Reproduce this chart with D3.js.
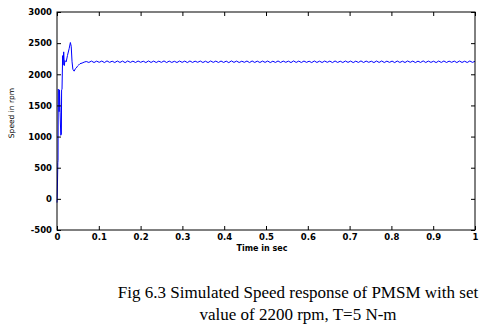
<!DOCTYPE html>
<html><head><meta charset="utf-8">
<script src="https://cdn.jsdelivr.net/npm/d3@7"></script>
<style>
html,body{margin:0;padding:0;background:#fff;}
svg{display:block;}
</style></head>
<body>
<svg id="c" width="484" height="332"></svg>
<script>
// ---- data ----
const xTicks = [0, 0.1, 0.2, 0.3, 0.4, 0.5, 0.6, 0.7, 0.8, 0.9, 1];
const xTickLabels = ["0", "0.1", "0.2", "0.3", "0.4", "0.5", "0.6", "0.7", "0.8", "0.9", "1"];
const yTicks = [-500, 0, 500, 1000, 1500, 2000, 2500, 3000];
const yTickLabels = ["-500", "0", "500", "1000", "1500", "2000", "2500", "3000"];
const xLabel = "Time in sec";
const yLabel = "Speed in rpm";
const captionLines = ["Fig 6.3 Simulated Speed response of PMSM with set", "value of 2200 rpm, T=5 N-m"];

// start-up transient (time s, speed rpm)
const transientTime = [0, 0.0005, 0.002, 0.0025, 0.003, 0.0045, 0.005, 0.006, 0.0075, 0.009, 0.0105, 0.011, 0.012, 0.0135, 0.0145, 0.016, 0.0175, 0.019, 0.022, 0.025, 0.029, 0.032, 0.034, 0.036, 0.038, 0.041, 0.044, 0.046, 0.049, 0.052, 0.055, 0.06, 0.065];
const transientSpeed = [-60, 0, 580, 620, 1760, 1740, 1400, 1750, 1380, 1020, 1040, 1750, 1760, 2300, 2150, 2360, 2140, 2220, 2200, 2300, 2410, 2510, 2450, 2200, 2080, 2050, 2090, 2100, 2130, 2150, 2170, 2180, 2195];

// steady-state ripple, sampled every half ripple period from rippleStart
const rippleStart = 0.07;
const rippleStep = 0.0062;
const rippleSpeed = [
 2205,2190,2212,2189,2211,2192,2213,2188,2215,2191,
 2210,2189,2213,2190,2212,2187,2214,2191,2211,2189,
 2213,2192,2210,2188,2214,2190,2212,2189,2211,2191,
 2215,2188,2212,2190,2209,2189,2213,2191,2212,2188,
 2214,2190,2211,2192,2213,2189,2210,2188,2214,2191,
 2212,2189,2213,2190,2211,2187,2215,2191,2212,2189,
 2210,2192,2213,2188,2214,2190,2211,2189,2212,2191,
 2213,2188,2210,2190,2214,2189,2212,2192,2211,2188,
 2215,2190,2212,2189,2213,2191,2210,2188,2214,2190,
 2211,2189,2213,2192,2212,2188,2214,2190,2210,2189,
 2213,2191,2212,2188,2211,2190,2215,2189,2212,2192,
 2210,2188,2213,2190,2214,2189,2211,2191,2212,2188,
 2213,2190,2210,2189,2214,2192,2212,2188,2211,2190,
 2215,2189,2212,2191,2210,2188,2213,2190,2214,2189,
 2211,2192,2212,2188,2213,2190,2210,2189,2214,2191,2208
];

// ---- build series ----
const series = transientTime.map((t, i) => [t, transientSpeed[i]])
  .concat(rippleSpeed.map((v, i) => [Math.min(1, rippleStart + i * rippleStep), v]));

// ---- layout ----
const L = 57, R = 475, T = 12, B = 230;
const svg = d3.select("#c");
svg.append("rect").attr("width", 484).attr("height", 332).attr("fill", "#fff");

const x = d3.scaleLinear().domain([0, 1]).range([L, R]);
const y = d3.scaleLinear().domain([-500, 3000]).range([B, T]);

const tickFont = "'DejaVu Sans', sans-serif";

// line
svg.append("path")
  .datum(series.filter(d => d[0] <= 1))
  .attr("fill", "none")
  .attr("stroke", "#0000ff")
  .attr("stroke-width", 1)
  .attr("d", d3.line().x(d => x(d[0])).y(d => y(d[1])));

// axes (inward ticks on all four sides)
function styleAxis(g) {
  g.select(".domain").remove();
  g.selectAll("line").attr("stroke", "#000").attr("stroke-width", 1);
  g.selectAll("text").attr("font-family", tickFont).attr("font-size", "8.5px").attr("font-weight", "bold").attr("fill", "#000");
}
const fmtX = d => xTickLabels[xTicks.indexOf(d)];
const fmtY = d => yTickLabels[yTicks.indexOf(d)];

svg.append("g").attr("transform", `translate(0,${B})`)
  .call(d3.axisBottom(x).tickValues(xTicks).tickFormat(fmtX).tickSizeInner(-4).tickSizeOuter(0).tickPadding(4))
  .call(styleAxis);
svg.append("g").attr("transform", `translate(0,${T})`)
  .call(d3.axisTop(x).tickValues(xTicks).tickFormat("").tickSizeInner(-4).tickSizeOuter(0))
  .call(styleAxis);
svg.append("g").attr("transform", `translate(${L},0)`)
  .call(d3.axisLeft(y).tickValues(yTicks).tickFormat(fmtY).tickSizeInner(-4).tickSizeOuter(0).tickPadding(5))
  .call(styleAxis);
svg.append("g").attr("transform", `translate(${R},0)`)
  .call(d3.axisRight(y).tickValues(yTicks).tickFormat("").tickSizeInner(-4).tickSizeOuter(0))
  .call(styleAxis);

// frame
svg.append("rect").attr("x", L).attr("y", T).attr("width", R - L).attr("height", B - T)
  .attr("fill", "none").attr("stroke", "#000").attr("stroke-width", 1);

// axis labels
svg.append("text").attr("x", 262).attr("y", 251).attr("text-anchor", "middle")
  .attr("font-family", tickFont).attr("font-size", "8px").attr("font-weight", "bold").text(xLabel);
svg.append("text").attr("transform", "translate(14,113) rotate(-90)").attr("text-anchor", "middle")
  .attr("font-family", tickFont).attr("font-size", "7.5px").text(yLabel);

// caption
captionLines.forEach((s, i) => {
  svg.append("text").attr("x", 298).attr("y", 298 + i * 22).attr("text-anchor", "middle")
    .attr("font-family", "'Liberation Serif', 'Times New Roman', serif").attr("font-size", "17px")
    .attr("fill", "#000").text(s);
});
</script>
</body></html>
